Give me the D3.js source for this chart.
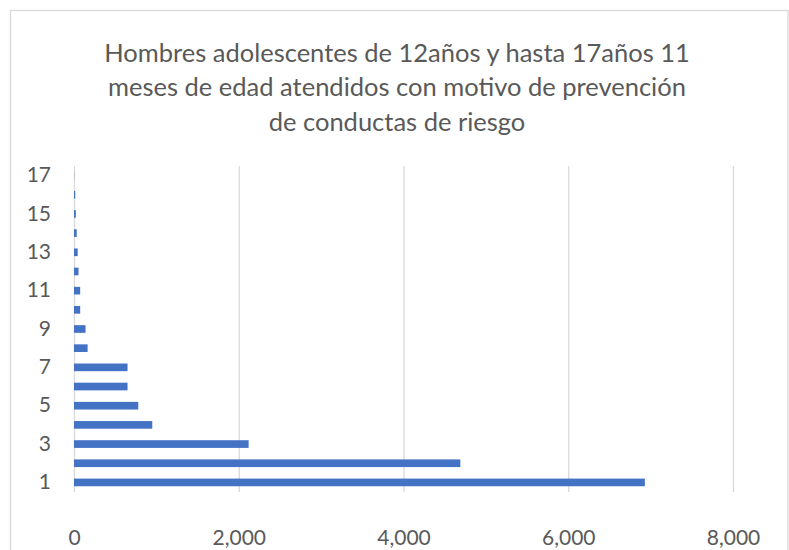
<!DOCTYPE html>
<html>
<head>
<meta charset="utf-8">
<script src="https://cdn.jsdelivr.net/npm/d3@7"></script>
<style>
  body { margin: 0; background: #fff; }
  svg { display: block; }
  text { font-family: Lato, "Liberation Sans", Arial, sans-serif; fill: #595959; }
</style>
</head>
<body>
<svg id="chart" width="789" height="550"></svg>
<script>
const titleLines = [
  "Hombres adolescentes de 12años y hasta 17años 11",
  "meses de edad atendidos con motivo de prevención",
  "de conductas de riesgo"
];

const categories = [1, 2, 3, 4, 5, 6, 7, 8, 9, 10, 11, 12, 13, 14, 15, 16, 17];
const values = [6930, 4690, 2120, 950, 780, 650, 650, 165, 140, 75, 75, 55, 45, 33, 22, 15, 2];
const xTicks = [0, 2000, 4000, 6000, 8000];
const yTickLabels = [1, 3, 5, 7, 9, 11, 13, 15, 17];

const svg = d3.select("#chart");
const plot = { left: 74, right: 733, top: 166, bottom: 492 };

// chart frame
svg.append("rect")
  .attr("x", 10.5)
  .attr("y", 10.5)
  .attr("width", 777.5)
  .attr("height", 560)
  .attr("fill", "#fff")
  .attr("stroke", "#d9d9d9")
  .attr("stroke-width", 1.3);

svg.append("text")
  .attr("text-anchor", "middle")
  .attr("font-size", 25.5)
  .selectAll("tspan")
  .data(titleLines)
  .join("tspan")
  .attr("x", 397)
  .attr("y", (d, i) => 61.5 + i * 34.5)
  .text(d => d);

const x = d3.scaleLinear()
  .domain([0, 8000])
  .range([plot.left, plot.right]);

const y = d3.scaleBand()
  .domain(categories)
  .range([plot.bottom, plot.top])
  .paddingInner(0.6)
  .paddingOuter(0.3);

// vertical gridlines
svg.append("g")
  .attr("transform", `translate(0,${plot.bottom})`)
  .call(d3.axisBottom(x).tickValues(xTicks).tickSize(-(plot.bottom - plot.top)).tickFormat(""))
  .call(g => g.select(".domain").remove())
  .call(g => g.selectAll("line").attr("stroke", "#d9d9d9").attr("stroke-width", 1.3));

svg.append("g")
  .attr("transform", `translate(0,${plot.bottom})`)
  .call(d3.axisBottom(x).tickValues(xTicks).tickSize(0).tickPadding(38).tickFormat(d3.format(",")))
  .call(g => g.select(".domain").remove())
  .call(g => g.selectAll("text").attr("font-size", 21).attr("font-family", null).attr("fill", "#595959"));

svg.append("g")
  .attr("transform", `translate(${plot.left},0)`)
  .call(d3.axisLeft(y).tickValues(yTickLabels).tickSize(0).tickPadding(23))
  .call(g => g.select(".domain").remove())
  .call(g => g.selectAll("text").attr("font-size", 21).attr("font-family", null).attr("fill", "#595959"));

svg.append("g")
  .selectAll("rect")
  .data(categories.map((c, i) => ({ c, v: values[i] })))
  .join("rect")
  .attr("x", x(0))
  .attr("y", d => y(d.c))
  .attr("width", d => x(d.v) - x(0))
  .attr("height", y.bandwidth())
  .attr("fill", "#4472c4");
</script>
</body>
</html>
